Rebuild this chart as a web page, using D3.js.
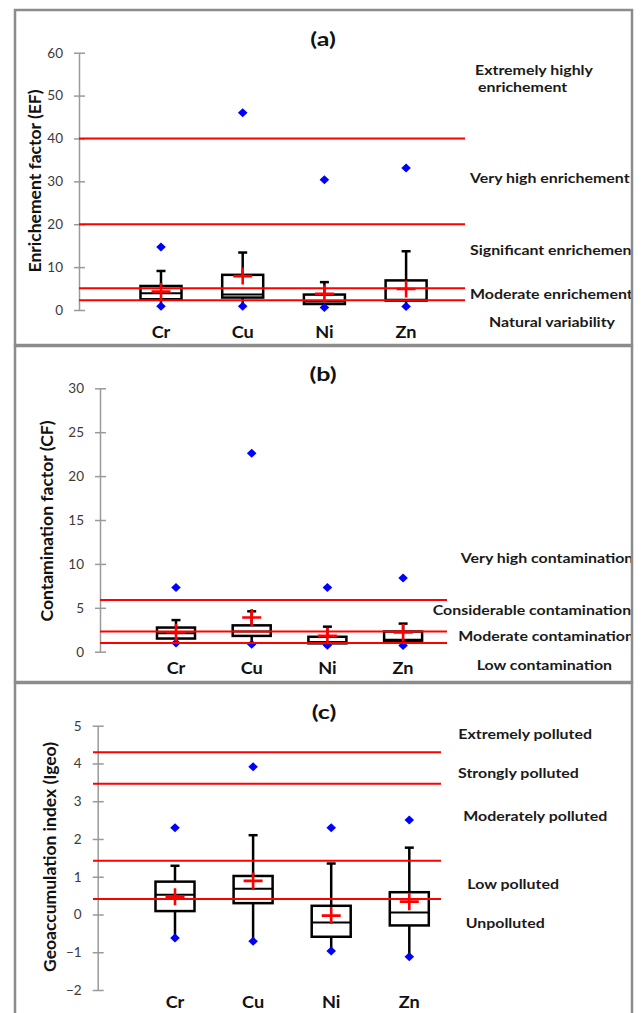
<!DOCTYPE html>
<html>
<head>
<meta charset="utf-8">
<script src="https://cdn.jsdelivr.net/npm/d3@7"></script>
<style>
  html, body { margin: 0; padding: 0; background: #fff; }
  svg { display: block; }
  text { font-family: Lato, "Open Sans", sans-serif; }
</style>
</head>
<body>
<svg id="chart" width="644" height="1013"></svg>
<script>
// ---- data -------------------------------------------------------------
const categories = ["Cr", "Cu", "Ni", "Zn"];

// Enrichment factor: box statistics per element
const efStats = [
  { min: 0.9, q1: 2.5, median: 3.9, q3: 5.6, whisker: 9.1, max: 14.7, mean: 4.3 },
  { min: 0.9, q1: 2.9, median: 3.6, q3: 8.2, whisker: 13.4, max: 46.0, mean: 7.9 },
  { min: 0.6, q1: 1.4, median: 2.0, q3: 3.6, whisker: 6.5, max: 30.4, mean: 3.8 },
  { min: 0.8, q1: 2.2, median: 2.4, q3: 6.9, whisker: 13.7, max: 33.1, mean: 4.9 }
];
const efThresholds = [40, 20, 5.1, 2.3];
const efTicks = [0, 10, 20, 30, 40, 50, 60];
const efZones = ["Extremely highly|enrichement", "Very high enrichement", "Significant enrichement", "Moderate enrichement", "Natural variability"];

// Contamination factor
const cfStats = [
  { min: 1.0, q1: 1.5, median: 2.1, q3: 2.75, whisker: 3.6, max: 7.3, mean: 2.2 },
  { min: 0.85, q1: 1.8, median: 2.3, q3: 3.0, whisker: 4.6, max: 22.6, mean: 3.9 },
  { min: 0.73, q1: 0.95, median: 1.1, q3: 1.7, whisker: 2.85, max: 7.3, mean: 1.8 },
  { min: 0.7, q1: 1.2, median: 1.35, q3: 2.3, whisker: 3.2, max: 8.4, mean: 2.2 }
];
const cfThresholds = [5.9, 2.3, 1.0];
const cfTicks = [0, 5, 10, 15, 20, 25, 30];
const cfZones = ["Very high contamination", "Considerable contamination", "Moderate contamination", "Low contamination"];

// Geoaccumulation index
const igeoStats = [
  { min: -0.62, q1: 0.09, median: 0.52, q3: 0.87, whisker: 1.29, max: 2.3, mean: 0.47 },
  { min: -0.71, q1: 0.30, median: 0.68, q3: 1.02, whisker: 2.1, max: 3.91, mean: 0.89 },
  { min: -0.97, q1: -0.59, median: -0.21, q3: 0.23, whisker: 1.35, max: 2.3, mean: -0.03 },
  { min: -1.12, q1: -0.29, median: 0.05, q3: 0.59, whisker: 1.77, max: 2.5, mean: 0.34 }
];
const igeoThresholds = [4.3, 3.46, 1.42, 0.41];
const igeoTicks = [-2, -1, 0, 1, 2, 3, 4, 5];
const igeoZones = ["Extremely polluted", "Strongly polluted", "Moderately polluted", "Low polluted", "Unpolluted"];

// ---- layout -----------------------------------------------------------
const panels = [
  {
    id: "a", tag: "(a)", yTitle: "Enrichement factor (EF)",
    stats: efStats, thresholds: efThresholds, ticks: efTicks, zones: efZones,
    zoneAt: [55.9, 30.8, 14.0, 3.7, -2.96], zoneX: [475, 470, 470, 470, 489],
    frame: [15, 10, 617, 335],
    domain: [0, 60], range: [310, 52.7], axisX: 79,
    xFirst: 161, xStep: 81.7, boxW: 41, lineX: [79, 465],
    titleX: 35, titleY: 181, tagX: 323, tagY: 40, catY: 332
  },
  {
    id: "b", tag: "(b)", yTitle: "Contamination factor (CF)",
    stats: cfStats, thresholds: cfThresholds, ticks: cfTicks, zones: cfZones,
    zoneAt: [10.6, 4.75, 1.79, -1.51], zoneX: [460.7, 432.7, 458.3, 476.7],
    frame: [15, 346, 617, 336],
    domain: [0, 30], range: [651.7, 388.3], axisX: 100,
    xFirst: 176, xStep: 75.7, boxW: 38, lineX: [100, 447],
    titleX: 47, titleY: 521, tagX: 323, tagY: 375, catY: 668
  },
  {
    id: "c", tag: "(c)", yTitle: "Geoaccumulation index (Igeo)",
    stats: igeoStats, thresholds: igeoThresholds, ticks: igeoTicks, zones: igeoZones,
    zoneAt: [4.78, 3.74, 2.61, 0.81, -0.22], zoneX: [458.3, 458, 463.3, 467.3, 465.7],
    frame: [15, 683, 617, 340],
    domain: [-2, 5], range: [990, 725.7], axisX: 97.7,
    xFirst: 175, xStep: 78.1, boxW: 39, lineX: [93, 441],
    titleX: 50, titleY: 857, tagX: 324, tagY: 713, catY: 1002
  }
];

const svg = d3.select("#chart");
const RED = "#ff0000", BLUE = "#0000ff", BORDER = "#8c8c8c";
const WIDE = 1.18; // horizontal stretch of the label lettering

panels.forEach(p => {
  const [fx, fy, fw, fh] = p.frame;
  const g = svg.append("g").attr("class", "panel-" + p.id);

  const clipId = "clip-" + p.id;
  svg.append("clipPath").attr("id", clipId)
    .append("rect").attr("x", fx).attr("y", fy).attr("width", fw).attr("height", fh);

  const inner = g.append("g").attr("clip-path", `url(#${clipId})`);

  const y = d3.scaleLinear().domain(p.domain).range(p.range);
  const x = d3.scalePoint().domain(categories)
    .range([p.xFirst, p.xFirst + (categories.length - 1) * p.xStep]);

  // y axis with crossing tick marks
  const axis = d3.axisLeft(y).tickValues(p.ticks).tickSize(5).tickSizeOuter(0).tickPadding(11)
    .tickFormat(d3.format("d"));
  const ax = inner.append("g").attr("transform", `translate(${p.axisX},0)`).call(axis);
  ax.select(".domain").attr("stroke", "#9a9a9a").attr("stroke-width", 1.5);
  ax.selectAll(".tick line").attr("x1", 6).attr("stroke", "#9a9a9a").attr("stroke-width", 1.5);
  ax.selectAll(".tick text").attr("fill", "#3a3a3a").attr("font-size", 13.5)
    .attr("font-family", "Lato, sans-serif");

  // y axis title
  inner.append("text")
    .attr("transform", `translate(${p.titleX},${p.titleY}) rotate(-90)`)
    .attr("text-anchor", "middle").attr("dy", "0.35em")
    .attr("font-size", 17.5).attr("font-weight", "bold").attr("fill", "#111")
    .text(p.yTitle);

  // panel tag
  inner.append("text")
    .attr("transform", `translate(${p.tagX},${p.tagY}) scale(1.35,1)`)
    .attr("dy", "0.35em")
    .attr("text-anchor", "middle").attr("font-size", 18.5).attr("font-weight", "bold")
    .attr("fill", "#111").text(p.tag);

  // category labels
  inner.selectAll(".cat").data(categories).join("text")
    .attr("transform", d => `translate(${x(d)},${p.catY}) scale(1.1,1)`)
    .attr("dy", "0.35em")
    .attr("text-anchor", "middle").attr("font-size", 16.5).attr("font-weight", "bold")
    .attr("fill", "#111").text(d => d);

  // boxes
  const boxes = inner.selectAll(".box").data(p.stats).join("g")
    .attr("transform", (d, i) => `translate(${x(categories[i])},0)`);
  const hw = p.boxW / 2, cap = 4.5;
  boxes.append("line").attr("x1", 0).attr("x2", 0)
    .attr("y1", d => y(d.q3)).attr("y2", d => y(d.whisker))
    .attr("stroke", "#000").attr("stroke-width", 2.5);
  boxes.append("line").attr("x1", -cap).attr("x2", cap)
    .attr("y1", d => y(d.whisker)).attr("y2", d => y(d.whisker))
    .attr("stroke", "#000").attr("stroke-width", 2.5);
  boxes.append("line").attr("x1", 0).attr("x2", 0)
    .attr("y1", d => y(d.q1)).attr("y2", d => y(d.min))
    .attr("stroke", "#000").attr("stroke-width", 2.5);
  boxes.append("rect").attr("x", -hw).attr("width", p.boxW)
    .attr("y", d => y(d.q3)).attr("height", d => y(d.q1) - y(d.q3))
    .attr("fill", "#fff").attr("stroke", "#000").attr("stroke-width", 2.5);
  boxes.append("line").attr("x1", -hw).attr("x2", hw)
    .attr("y1", d => y(d.median)).attr("y2", d => y(d.median))
    .attr("stroke", "#000").attr("stroke-width", 2);

  // min / max markers
  const diamond = "M0,-4.5L4.8,0L0,4.5L-4.8,0Z";
  boxes.append("path").attr("d", diamond).attr("fill", BLUE)
    .attr("transform", d => `translate(0,${y(d.max)})`);
  boxes.append("path").attr("d", diamond).attr("fill", BLUE)
    .attr("transform", d => `translate(0,${y(d.min)})`);

  // threshold lines
  inner.selectAll(".thr").data(p.thresholds).join("line")
    .attr("x1", p.lineX[0]).attr("x2", p.lineX[1])
    .attr("y1", d => y(d)).attr("y2", d => y(d))
    .attr("stroke", RED).attr("stroke-width", 2);

  // mean markers
  boxes.append("path").attr("d", "M-9.5,0H9.5M0,-8.5V8.5")
    .attr("stroke", RED).attr("stroke-width", 2.6).attr("fill", "none")
    .attr("transform", d => `translate(0,${y(d.mean)})`);

  // zone labels
  p.zones.forEach((z, i) => {
    const t = inner.append("text")
      .attr("transform", `translate(${p.zoneX[i]},${y(p.zoneAt[i])}) scale(${WIDE},1)`)
      .attr("font-size", 13.5).attr("font-weight", "bold")
      .attr("fill", "#1a1a1a");
    z.split("|").forEach((line, k) => {
      t.append("tspan").attr("x", k * 3 / WIDE).attr("dy", k === 0 ? "0.35em" : "1.25em").text(line);
    });
  });

  // frame
  g.append("rect").attr("x", fx).attr("y", fy).attr("width", fw).attr("height", fh)
    .attr("fill", "none").attr("stroke", BORDER).attr("stroke-width", 2.5);
});
</script>
</body>
</html>
